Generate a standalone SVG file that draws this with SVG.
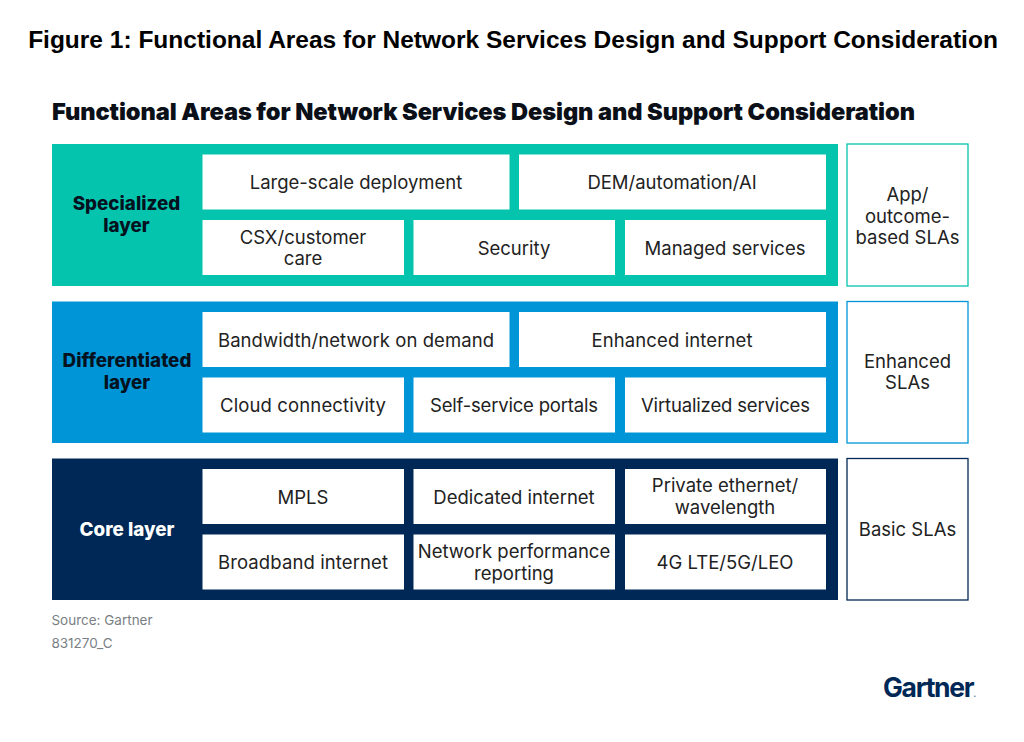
<svg xmlns="http://www.w3.org/2000/svg" width="1024" height="742" viewBox="0 0 1024 742">
<style>
text{font-family:"Inter","Liberation Sans",sans-serif;text-anchor:middle;font-size:18.5px;fill:#222;font-weight:400}
.b{fill:#fff}
.l{font-weight:800;font-size:18.8px;fill:#04121f}
.w{fill:#fff;font-weight:800;font-size:18.8px}
.s{fill:#fff;stroke-width:1.3}
.f{font-size:13.5px;fill:#7a7f85}
</style>
<rect width="1024" height="742" fill="#fff"/>
<text x="513" y="48" style="font-family:'Liberation Sans',sans-serif;font-weight:700;font-size:24.5px;fill:#000">Figure 1: Functional Areas for Network Services Design and Support Consideration</text>
<text x="483.5" y="120" textLength="863" lengthAdjust="spacing" style="font-weight:900;font-size:23.6px;fill:#0a0f18">Functional Areas for Network Services Design and Support Consideration</text>

<g id="specialized">
<rect x="52" y="144" width="786" height="142" fill="#05c4ae"/>
<text class="l" x="126.500" y="210">Specialized</text><text class="l" x="126.500" y="232">layer</text>
<rect class="b" x="202.500" y="154.500" width="307" height="55"/><text x="356" y="188.500">Large-scale deployment</text>
<rect class="b" x="519" y="154.500" width="307" height="55"/><text x="672" y="188.500">DEM/automation/AI</text>
<rect class="b" x="202.500" y="220" width="201.500" height="55"/><text x="303" y="243.500">CSX/customer</text><text x="303" y="264.500">care</text>
<rect class="b" x="413.500" y="220" width="201.500" height="55"/><text x="514" y="254.500">Security</text>
<rect class="b" x="625" y="220" width="201" height="55"/><text x="725" y="254.500">Managed services</text>
</g>
<g id="differentiated">
<rect x="52" y="301.500" width="786" height="141.500" fill="#0095d6"/>
<text class="l" x="127" y="367">Differentiated</text><text class="l" x="127" y="389">layer</text>
<rect class="b" x="202.500" y="312" width="307" height="55"/><text x="356" y="346.500" textLength="276">Bandwidth/network on demand</text>
<rect class="b" x="519" y="312" width="307" height="55"/><text x="672" y="346.500" textLength="161">Enhanced internet</text>
<rect class="b" x="202.500" y="377.500" width="201.500" height="55"/><text x="303" y="411.500" textLength="166">Cloud connectivity</text>
<rect class="b" x="413.500" y="377.500" width="201.500" height="55"/><text x="514" y="411.500" textLength="168">Self-service portals</text>
<rect class="b" x="625" y="377.500" width="201" height="55"/><text x="725.500" y="411.500" textLength="169">Virtualized services</text>
</g>
<g id="core">
<rect x="52" y="458.500" width="786" height="141.500" fill="#002856"/>
<text class="w" x="127" y="535.500">Core layer</text>
<rect class="b" x="202.500" y="469" width="201.500" height="55"/><text x="303" y="503.500">MPLS</text>
<rect class="b" x="413.500" y="469" width="201.500" height="55"/><text x="514" y="503.500">Dedicated internet</text>
<rect class="b" x="625" y="469" width="201" height="55"/><text x="725" y="491.500">Private ethernet/</text><text x="725" y="513.500">wavelength</text>
<rect class="b" x="202.500" y="534.500" width="201.500" height="55"/><text x="303" y="568.500" textLength="170">Broadband internet</text>
<rect class="b" x="413.500" y="534.500" width="201.500" height="55"/><text x="514" y="557.500">Network performance</text><text x="514" y="579.500">reporting</text>
<rect class="b" x="625" y="534.500" width="201" height="55"/><text x="725" y="568.500">4G LTE/5G/LEO</text>
</g>
<g id="sla-app"><rect class="s" x="847" y="144" width="121" height="142" stroke="#05c4ae"/><text x="907.500" y="200.500">App/</text><text x="907.500" y="222.500">outcome-</text><text x="907.500" y="243.500">based SLAs</text></g>
<g id="sla-enhanced"><rect class="s" x="847" y="301.500" width="121" height="141.500" stroke="#0095d6"/><text x="907.500" y="368">Enhanced</text><text x="907.500" y="389">SLAs</text></g>
<g id="sla-basic"><rect class="s" x="847" y="458.500" width="121" height="141.500" stroke="#002856"/><text x="907.500" y="535.500">Basic SLAs</text></g>
<text class="f" x="102" y="625">Source: Gartner</text>
<text class="f" x="82" y="648">831270_C</text>
<text x="883" y="697" style="text-anchor:start;font-size:26.500px;font-weight:700;fill:#002856;letter-spacing:-1.300px">Gartner<tspan style="font-size:9px;fill:#6a7f99;letter-spacing:0">.</tspan></text>
</svg>
